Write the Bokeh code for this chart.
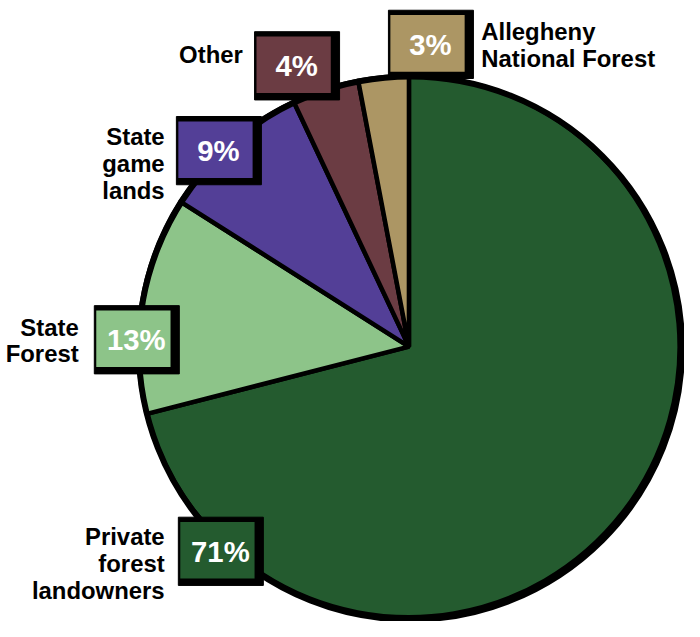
import math
from bokeh.plotting import figure
from bokeh.models import Range1d, ColumnDataSource
from bokeh.embed import file_html
from bokeh.resources import INLINE
from bokeh.core.properties import value

# ---- data ----
categories = ["Private forest landowners", "State Forest", "State game lands",
              "Other", "Allegheny National Forest"]
label_lines = [["Private", "forest", "landowners"], ["State", "Forest"],
               ["State", "game", "lands"], ["Other"], ["Allegheny", "National Forest"]]
shares = [71, 13, 9, 4, 3]
pct_labels = ["71%", "13%", "9%", "4%", "3%"]

# ---- styles / layout ----
colors = ["#245b2f", "#8dc489", "#533f97", "#6b3c43", "#ac9664"]
W, H = 700, 637          # reference pixel space
FW, FH = 684, 621        # figure size (page has 8px margin)
S = FW / W
CX, CY, R = 418, 355, 277
FONT = "Liberation Sans"

box_centers = [(222, 564), (136, 347), (220, 153), (300, 66), (437, 44)]
BW, BH = 76, 58
label_anchor = [(168, 550, "right"), (80, 335, "right"), (168, 140, "right"),
                (248, 55, "right"), (492, 32, "left")]
LINE_H = 27.5


def Y(y):
    return H - y


p = figure(width=FW, height=FH, x_range=Range1d(0, W), y_range=Range1d(0, H),
           output_backend="svg", toolbar_location=None, min_border=0)
p.axis.visible = False
p.grid.visible = False
p.outline_line_color = None
p.background_fill_color = "white"

total = sum(shares)
starts, ends = [], []
a = math.pi / 2
for v in shares:
    b = a - 2 * math.pi * v / total
    starts.append(a)
    ends.append(b)
    a = b

src = ColumnDataSource(dict(start=starts, end=ends, color=colors, cat=categories))
p.wedge(x=CX, y=Y(CY), radius=R, start_angle="start", end_angle="end",
        direction="clock", fill_color="color", line_color="black",
        line_width=4.5, source=src)
p.circle(x=CX + 1.5, y=Y(CY + 1.5), radius=R + 1, fill_color=None,
         line_color="black", line_width=6)

# label boxes
lefts = [c[0] - BW / 2 for c in box_centers]
rights = [c[0] + BW / 2 for c in box_centers]
tops = [Y(c[1] - BH / 2) for c in box_centers]
bottoms = [Y(c[1] + BH / 2) for c in box_centers]
p.quad(left=[l - 2 for l in lefts], right=[r + 9 for r in rights],
       top=[t + 5 for t in tops], bottom=[b - 7 for b in bottoms],
       fill_color="black", line_color="black", line_width=1)
p.quad(left=lefts, right=rights, top=tops, bottom=bottoms,
       fill_color=colors, line_color=None)

p.text(x=[c[0] + 3 for c in box_centers], y=[Y(c[1] + 1) for c in box_centers],
       text=pct_labels, text_color="white", text_font=value(FONT),
       text_font_style="bold", text_font_size=f"{30 * S:.1f}px",
       text_align="center", text_baseline="middle")

# category labels
xs, ys, ts, als = [], [], [], []
for (ax, ay, al), lines in zip(label_anchor, label_lines):
    for i, t in enumerate(lines):
        xs.append(ax)
        ys.append(Y(ay + i * LINE_H))
        ts.append(t)
        als.append(al)
tsrc = ColumnDataSource(dict(x=xs, y=ys, t=ts, al=als))
p.text(x="x", y="y", text="t", text_align="al", source=tsrc,
       text_color="black", text_font=value(FONT), text_font_style="bold",
       text_font_size=f"{24.5 * S:.1f}px", text_baseline="alphabetic")

open("out.html", "w").write(file_html(p, INLINE))
